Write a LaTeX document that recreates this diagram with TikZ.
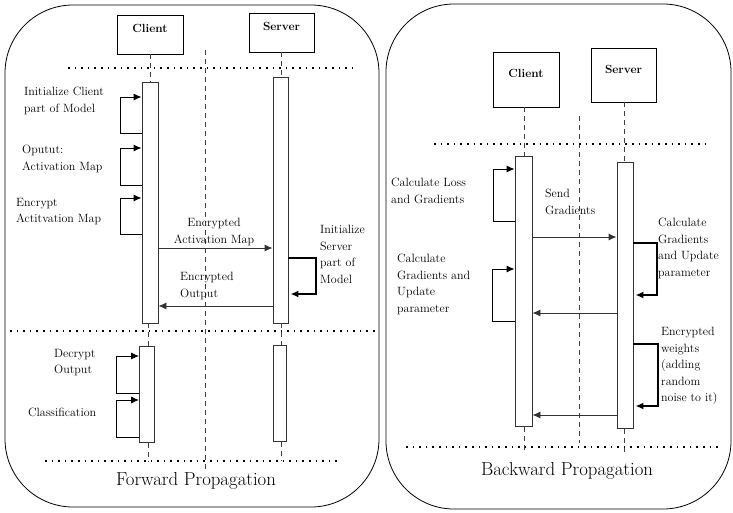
\documentclass[tikz,border=0pt]{standalone}
\usetikzlibrary{arrows.meta,calc}
\begin{document}
\begin{tikzpicture}[x=1pt,y=-1pt,
  panel/.style={draw, line width=0.8pt, rounded corners=68pt},
  actor/.style={draw, line width=0.9pt, inner sep=0pt, text height=8pt, text depth=12pt,
    font=\fontsize{11.8}{14}\selectfont\bfseries},
  bar/.style={draw=black!80, fill=white, line width=0.9pt, inner sep=0pt, anchor=north},
  life/.style={draw=black!75, line width=0.9pt, dash pattern=on 5pt off 4pt},
  sep/.style={draw, line width=1.5pt, dash pattern=on 1.5pt off 5.1pt},
  msg/.style={draw=black!80, line width=0.9pt, -{Latex[length=8pt,width=7pt]}},
  selfthin/.style={draw, line width=0.9pt, -{Latex[length=8pt,width=7pt]}},
  selfthick/.style={draw, line width=1.8pt, -{Latex[length=8pt,width=7pt]}},
  lbl/.style={anchor=north west, align=left, inner sep=0pt,
    font=\fontsize{12}{16.5}\selectfont},
  title/.style={anchor=base, inner sep=0pt, font=\fontsize{18.8}{22}\selectfont}
]
\useasboundingbox (0,0) rectangle (733,512);

% ---------- panels ----------
\draw[panel] (5,5) rectangle (379,507);
\draw[panel] (386,4) rectangle (731,509);

% ================= Forward propagation =================
\node[actor, minimum width=66pt, minimum height=39pt] (c1) at (150,34.5) {Client};
\node[actor, minimum width=65pt, minimum height=39pt] (s1) at (281.5,32.5) {Server};

\node[bar, minimum width=16pt, minimum height=241pt] (cb1) at (150,82) {};
\node[bar, minimum width=15pt, minimum height=246pt] (sb1) at (280.5,77) {};
\node[bar, minimum width=15pt, minimum height=96pt] (cb2) at (147,346) {};
\node[bar, minimum width=13pt, minimum height=96pt] (sb2) at (279.5,345) {};

\coordinate (cend1) at (148,461);
\coordinate (send1) at (281,461);
\coordinate (mtop1) at (205,50);
\coordinate (mbot1) at (205,470);

% lifelines
\draw[life] (c1.south) -- (c1.south |- cb1.north);
\draw[life] (s1.south) -- (s1.south |- sb1.north);
\draw[life] (148,323) -- (cb2.north -| 148,0);
\draw[life] (281,323) -- (sb2.north -| 281,0);
\draw[life] (cb2.south -| cend1) -- (cend1);
\draw[life] (sb2.south -| send1) -- (send1);
\draw[life] (mtop1) -- (mbot1);

% separators
\draw[sep] (68,68) -- (353,68);
\draw[sep] (10,331) -- (378,331);
\draw[sep] (45,461) -- (340,461);

% client self arrows
\draw[selfthin] (cb1.west |- 0,133) -- (120,133) -- (120,97) -- (cb1.west |- 0,97);
\draw[selfthin] (cb1.west |- 0,185) -- (120,185) -- (120,148) -- (cb1.west |- 0,148);
\draw[selfthin] (cb1.west |- 0,234) -- (120,234) -- (120,198) -- (cb1.west |- 0,198);
\draw[selfthin] (cb2.west |- 0,393) -- (116,393) -- (116,356) -- (cb2.west |- 0,356);
\draw[selfthin] (cb2.west |- 0,437) -- (116,437) -- (116,400) -- (cb2.west |- 0,400);

% server self arrow
\draw[selfthick] (sb1.east |- 0,258) -- (316,258) -- (316,294) -- ($(sb1.east |- 0,294)+(2,0)$);

% messages
\draw[msg] (cb1.east |- 0,248) -- (sb1.west |- 0,248);
\draw[msg] (sb1.west |- 0,306) -- (cb1.east |- 0,306);

% labels
\node[lbl] at (24,87) {Initialize Client\\part of Model};
\node[lbl] at (22,145) {Oputut:\\Activation Map};
\node[lbl] at (16,198) {Encrypt\\Actitvation Map};
\node[lbl, align=center, anchor=north] at (214,218) {Encrypted\\Activation Map};
\node[lbl] at (320,225) {Initialize\\Server\\part of\\Model};
\node[lbl] at (180,272) {Encrypted\\Output};
\node[lbl] at (54,349) {Decrypt\\Output};
\node[lbl] at (28,408) {Classification};
\node[title] at (196,485) {Forward Propagation};

% ================= Backward propagation =================
\node[actor, minimum width=66pt, minimum height=55pt] (c2) at (526,79.5) {Client};
\node[actor, minimum width=65pt, minimum height=54pt] (s2) at (623.5,75) {Server};

\node[bar, minimum width=17pt, minimum height=270pt] (cb3) at (523.5,156) {};
\node[bar, minimum width=16pt, minimum height=266pt] (sb3) at (625,162) {};

\coordinate (cend2) at (524,450);
\coordinate (send2) at (624,452);
\coordinate (mtop2) at (579,116);
\coordinate (mbot2) at (579,443);

\draw[life] (c2.south -| 524,0) -- (cb3.north -| 524,0);
\draw[life] (s2.south -| 624,0) -- (sb3.north -| 624,0);
\draw[life] (cb3.south -| cend2) -- (cend2);
\draw[life] (sb3.south -| send2) -- (send2);
\draw[life] (mtop2) -- (mbot2);

\draw[sep] (434,144) -- (707,144);
\draw[sep] (406,447) -- (720,447);

% client self arrows
\draw[selfthin] (cb3.west |- 0,221) -- (493,221) -- (493,169) -- (cb3.west |- 0,169);
\draw[selfthin] (cb3.west |- 0,321) -- (492,321) -- (492,269) -- (cb3.west |- 0,269);

% server self arrows
\draw[selfthick] (sb3.east |- 0,243) -- (657,243) -- (657,295) -- ($(sb3.east |- 0,295)+(2,0)$);
\draw[selfthick] (sb3.east |- 0,344) -- (658,344) -- (658,406) -- ($(sb3.east |- 0,406)+(2,0)$);

% messages
\draw[msg] (cb3.east |- 0,237) -- (sb3.west |- 0,237);
\draw[msg] (sb3.west |- 0,313) -- (cb3.east |- 0,313);
\draw[msg] (sb3.west |- 0,415) -- (cb3.east |- 0,415);

% labels
\node[lbl] at (391,178) {Calculate Loss\\and Gradients};
\node[lbl] at (545,189) {Send\\Gradients};
\node[lbl] at (658,218) {Calculate\\Gradients\\and Update\\parameter};
\node[lbl] at (397,254) {Calculate\\Gradients and\\Update\\parameter};
\node[lbl] at (661,327) {Encrypted\\weights\\(adding\\random\\noise to it)};
\node[title] at (567,475) {Backward Propagation};
\end{tikzpicture}
\end{document}
